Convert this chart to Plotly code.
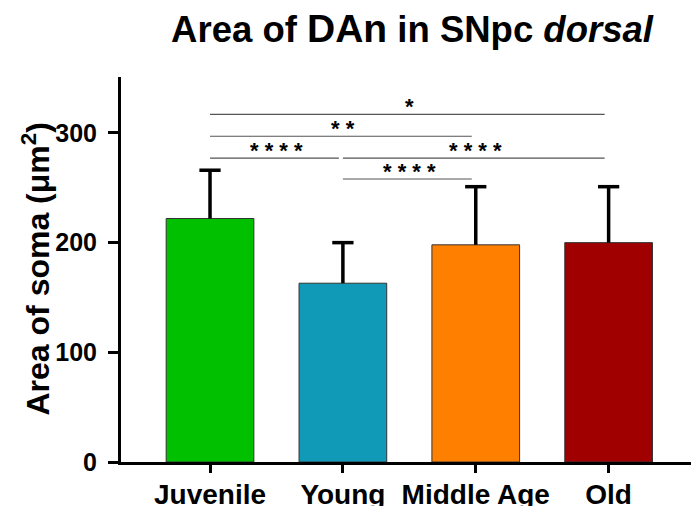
import plotly.graph_objects as go

categories = ["Juvenile", "Young", "Middle Age", "Old"]
means = [222, 163, 198, 200]
sds = [44, 37, 53, 51]
colors = ["#00C000", "#1199B8", "#FF8000", "#A00000"]

sig_from = [0, 0, 0, 1, 1]
sig_to = [3, 2, 1, 3, 2]
sig_level = [317, 297, 277, 277, 258]
sig_label = ["*", "**", "****", "****", "****"]

yticks = [0, 100, 200, 300]

FONT = "Arial, Liberation Sans, sans-serif"
xs = list(range(len(categories)))

fig = go.Figure()
fig.add_trace(go.Bar(
    x=xs, y=means, width=0.66,
    marker=dict(color=colors, line=dict(color="#333333", width=1)),
    showlegend=False, hoverinfo="skip",
))

# upper-only error bars with caps
ex, ey = [], []
cap = 0.08
for i, (m, s) in enumerate(zip(means, sds)):
    ex += [i, i, None, i - cap, i + cap, None]
    ey += [m, m + s, None, m + s, m + s, None]
fig.add_trace(go.Scatter(x=ex, y=ey, mode="lines",
                         line=dict(color="black", width=3.5),
                         showlegend=False, hoverinfo="skip"))

# significance brackets
for a, b, lvl, lab in zip(sig_from, sig_to, sig_level, sig_label):
    fig.add_shape(type="line", x0=a, x1=b - 0.03, y0=lvl, y1=lvl,
                  xref="x", yref="y", line=dict(color="#555555", width=1.2))
    fig.add_annotation(x=(a + b) / 2, y=lvl, text="<b>" + " ".join(lab) + "</b>",
                       showarrow=False, xref="x", yref="y",
                       yanchor="bottom", yshift=-7,
                       font=dict(family=FONT, size=22, color="black"))

# y-axis title as annotation
fig.add_annotation(text="<b>Area of soma (μm<sup>2</sup>)</b>",
                   x=(35 - 121) / 570, xref="paper", y=0.50, yref="paper",
                   textangle=-90, showarrow=False,
                   xanchor="center", yanchor="middle",
                   font=dict(family=FONT, size=32, color="black"))

fig.update_layout(
    width=691, height=506,
    margin=dict(l=121, r=0, t=77, b=44, autoexpand=False),
    plot_bgcolor="white", paper_bgcolor="white",
    title=dict(
        text="<b>Area of <span style='font-size:39px'>DAn</span> in SNpc <i>dorsal</i></b>",
        x=412 / 691, xanchor="center", xref="container",
        y=1 - 16 / 506, yanchor="top", yref="container",
        font=dict(family=FONT, size=36.5, color="black"),
    ),
    xaxis=dict(
        range=[-0.67, 3.62], tickvals=xs, ticktext=["<b>%s</b>" % c for c in categories],
        showline=True, linecolor="black", linewidth=3,
        ticks="outside", ticklen=8, tickwidth=3, tickcolor="black",
        showgrid=False, zeroline=False, automargin=False,
        tickfont=dict(family=FONT, size=28, color="black"),
        ticklabelstandoff=-3,
        fixedrange=True,
    ),
    yaxis=dict(
        range=[0, 351], tickvals=yticks, ticktext=["<b>%d</b>" % v for v in yticks],
        showline=True, linecolor="black", linewidth=3,
        ticks="outside", ticklen=10, tickwidth=3, tickcolor="black",
        showgrid=False, zeroline=False, automargin=False,
        tickfont=dict(family=FONT, size=25, color="black"),
        ticklabelstandoff=6,
        fixedrange=True,
    ),
)

fig.write_html("out.html", post_script="document.body.style.margin='0';",
               config={"displayModeBar": False})
